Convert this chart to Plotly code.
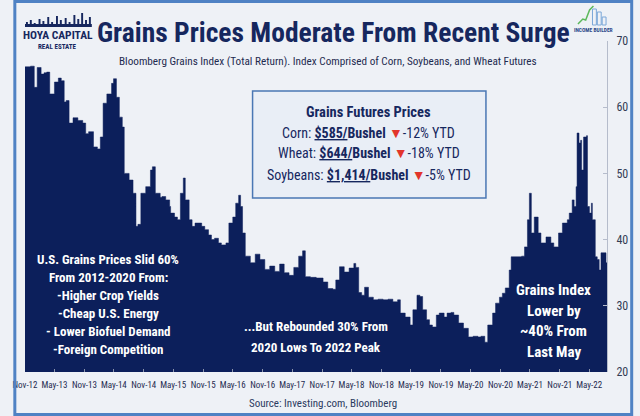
import plotly.graph_objects as go

# ---------------- data ----------------
dates = [
    "2012-11-01", "2012-11-05", "2012-12-05", "2012-12-28", "2013-01-15", "2013-02-08", "2013-02-26",
    "2013-03-14", "2013-04-02", "2013-05-01", "2013-05-25", "2013-06-12", "2013-06-30",
    "2013-07-12", "2013-07-30", "2013-08-23", "2013-09-22", "2013-10-22", "2013-11-09",
    "2013-11-27", "2013-12-27", "2014-01-20", "2014-02-07", "2014-02-24", "2014-03-19",
    "2014-04-17", "2014-04-29", "2014-05-17", "2014-06-04", "2014-06-22", "2014-07-04",
    "2014-08-03", "2014-08-27", "2014-09-14", "2014-09-26", "2014-10-14", "2014-11-13",
    "2014-12-12", "2014-12-24", "2015-01-11", "2015-02-10", "2015-02-21", "2015-03-16",
    "2015-04-09", "2015-04-15", "2015-05-09", "2015-05-27", "2015-06-14", "2015-07-02",
    "2015-07-14", "2015-08-07", "2015-08-25", "2015-09-12", "2015-10-06", "2015-10-23",
    "2015-11-11", "2015-12-04", "2015-12-22", "2016-01-10", "2016-02-03", "2016-02-21",
    "2016-03-20", "2016-04-07", "2016-05-01", "2016-05-19", "2016-06-06", "2016-06-18",
    "2016-06-30", "2016-07-17", "2016-08-17", "2016-09-16", "2016-10-15", "2016-11-14",
    "2016-12-14", "2017-01-14", "2017-02-13", "2017-03-13", "2017-04-12", "2017-05-11",
    "2017-06-10", "2017-07-04", "2017-07-21", "2017-08-21", "2017-09-26", "2017-11-07",
    "2017-12-06", "2018-01-06", "2018-01-24", "2018-02-16", "2018-03-17", "2018-04-16",
    "2018-05-15", "2018-05-27", "2018-06-14", "2018-07-02", "2018-07-20", "2018-08-13",
    "2018-09-12", "2018-10-11", "2018-11-11", "2018-12-11", "2019-01-10", "2019-02-08",
    "2019-02-25", "2019-03-27", "2019-04-26", "2019-05-13", "2019-06-07", "2019-06-25",
    "2019-07-12", "2019-08-05", "2019-08-23", "2019-09-10", "2019-10-04", "2019-10-22",
    "2019-11-21", "2019-12-09", "2020-01-02", "2020-01-20", "2020-02-18", "2020-03-19",
    "2020-04-18", "2020-05-17", "2020-06-16", "2020-07-04", "2020-07-28", "2020-08-15",
    "2020-09-14", "2020-10-02", "2020-10-26", "2020-11-13", "2020-12-01", "2020-12-25",
    "2021-01-06", "2021-02-11", "2021-03-11", "2021-03-29", "2021-04-16", "2021-04-28",
    "2021-05-10", "2021-05-28", "2021-06-21", "2021-07-08", "2021-08-08", "2021-09-07",
    "2021-09-25", "2021-10-24", "2021-11-17", "2021-12-17", "2021-12-29", "2022-01-16",
    "2022-01-28", "2022-02-09", "2022-02-15", "2022-02-27", "2022-03-09", "2022-03-15",
    "2022-03-27", "2022-04-14", "2022-04-20", "2022-05-02", "2022-05-14", "2022-05-20",
    "2022-06-07", "2022-06-19", "2022-07-01", "2022-07-12", "2022-07-30", "2022-08-12",
    "2022-08-18",
]
index_values = [
    66.1, 66.1, 66.2, 63.0, 66.0, 65.0, 65.2,
    65.3, 62.0, 63.8, 64.4, 64.0, 60.8,
    61.0, 57.6, 58.4, 58.0, 57.6, 56.0,
    56.3, 54.0, 53.7, 55.5, 60.6, 62.0,
    63.6, 64.3, 61.5, 58.5, 57.0, 50.0,
    49.0, 47.0, 42.0, 42.3, 47.0, 48.0,
    50.5, 51.0, 47.0, 46.4, 46.5, 46.0,
    45.0, 44.0, 43.4, 43.0, 47.0, 49.3,
    46.0, 43.0, 42.0, 42.5, 42.5, 42.0,
    41.5, 40.7, 40.0, 40.2, 39.5, 39.2,
    39.5, 42.5, 43.4, 45.5, 46.7, 45.0,
    41.0, 37.5, 36.5, 37.8, 37.0, 35.5,
    36.0, 35.2, 36.3, 35.0, 34.6, 35.8,
    37.5, 38.3, 34.4, 34.3, 34.2, 33.6,
    32.6, 32.5, 33.9, 35.9, 35.1, 35.7,
    36.4, 35.8, 32.0, 31.6, 32.8, 31.3,
    30.9, 31.0, 30.9, 31.0, 30.6, 30.9,
    28.9, 28.3, 27.1, 29.4, 31.6, 31.4,
    29.4, 27.9, 27.1, 26.8, 28.6, 28.9,
    28.3, 28.9, 29.0, 28.6, 27.4, 26.6,
    25.3, 25.4, 25.3, 25.4, 24.5, 27.1,
    28.9, 30.4, 31.3, 31.9, 32.7, 35.4,
    37.4, 37.4, 37.5, 38.9, 43.0, 47.0,
    41.0, 43.4, 41.0, 39.5, 40.4, 39.5,
    38.9, 41.0, 42.5, 43.0, 44.0, 46.0,
    45.0, 48.0, 56.1, 54.6, 55.0, 50.5,
    55.5, 55.7, 45.0, 44.0, 45.5, 43.0,
    37.4, 37.0, 35.4, 38.0, 38.0, 36.5,
    36.5,
]

tick_dates = ["2012-11-01", "2013-05-01", "2013-11-01", "2014-05-01", "2014-11-01",
              "2015-05-01", "2015-11-01", "2016-05-01", "2016-11-01", "2017-05-01",
              "2017-11-01", "2018-05-01", "2018-11-01", "2019-05-01", "2019-11-01",
              "2020-05-01", "2020-11-01", "2021-05-01", "2021-11-01", "2022-05-01"]
tick_labels = ["Nov-12", "May-13", "Nov-13", "May-14", "Nov-14", "May-15", "Nov-15",
               "May-16", "Nov-16", "May-17", "Nov-17", "May-18", "Nov-18", "May-19",
               "Nov-19", "May-20", "Nov-20", "May-21", "Nov-21", "May-22"]
y_ticks = [20, 30, 40, 50, 60, 70]

# ---------------- styling ----------------
W, H = 640, 416
ML, MR, MT, MB = 12, 27, 41, 44
PW, PH = W - ML - MR, H - MT - MB
NAVY = "#0c1f5b"
TEXT_NAVY = "#16275e"
BG = "#eef1f6"
NARROW = "Liberation Sans Narrow, Roboto Condensed, Lato, sans-serif"


def px(xp):
    return (xp - ML) / PW


def py(yp):
    return (H - MB - yp) / PH


fig = go.Figure()
fig.add_trace(go.Scatter(
    x=dates, y=index_values, mode="lines", line=dict(color=NAVY, width=0.5, shape="hv"),
    fill="tozeroy", fillcolor=NAVY, hoverinfo="skip", showlegend=False,
))

annotations = []


def note(text, xp, yp, size, color=TEXT_NAVY, bold=False, family=NARROW, xanchor="center"):
    t = f"<b>{text}</b>" if bold else text
    annotations.append(dict(
        text=t, x=px(xp), y=py(yp), xref="paper", yref="paper", showarrow=False,
        xanchor=xanchor, yanchor="middle", font=dict(size=size, color=color, family=family),
    ))


# Title and subtitle
note("Grains Prices Moderate From Recent Surge", 331, 33, 27.5, color=TEXT_NAVY, bold=True)
note("Bloomberg Grains Index (Total Return). Index Comprised of Corn, Soybeans, and Wheat Futures",
     325, 61, 11.2, color="#1e2b50")
# Logos (text)
note("HOYA CAPITAL", 46, 35, 11.5, color=TEXT_NAVY, bold=True)
note("REAL ESTATE", 46, 47, 7, color=TEXT_NAVY, bold=True)
note("INCOME BUILDER", 599, 30, 5.5, color="#2c4a8a", bold=True)

# Box contents
note("Grains Futures Prices", 367, 113, 14.5, color=TEXT_NAVY, bold=True)
TRI = "<span style='color:#e2352b'>▼</span>"
note(f"Corn: <b><u>$585/</u>Bushel</b> {TRI}-12% YTD", 367, 133, 14, color=TEXT_NAVY)
note(f"Wheat: <b><u>$644/</u>Bushel</b> {TRI}-18% YTD", 367, 153, 14, color=TEXT_NAVY)
note(f"Soybeans: <b><u>$1,414/</u>Bushel</b> {TRI}-5% YTD", 367, 175, 14, color=TEXT_NAVY)

# White annotations on the area
left_lines = ["U.S. Grains Prices Slid 60%", "From 2012-2020 From:", "-Higher Crop Yields",
              "-Cheap U.S. Energy", "- Lower Biofuel Demand", "-Foreign Competition"]
for i, s in enumerate(left_lines):
    note(s, 98, 259 + i * 18, 13, color="white", bold=True)
mid_lines = ["...But Rebounded 30% From", "2020 Lows To 2022 Peak"]
for i, s in enumerate(mid_lines):
    note(s, 312, 326 + i * 21, 13, color="white", bold=True)
right_lines = ["Grains Index", "Lower by", "~40% From", "Last May"]
for i, s in enumerate(right_lines):
    note(s, 558, 290 + i * 20.7, 15, color="white", bold=True)

note("Source: Investing.com, Bloomberg", 320, 403, 11, color="#2b3a60")

shapes = [
    # info box
    dict(type="rect", xref="paper", yref="paper", x0=px(247), x1=px(488), y0=py(198), y1=py(91),
         line=dict(color="#4a77b4", width=1.5), fillcolor="#e9eef6", layer="above"),
    # outer frame
    dict(type="rect", xref="paper", yref="paper", x0=px(1.5), x1=px(638.5), y0=py(414.5), y1=py(1.5),
         line=dict(color="#4f82c4", width=3), fillcolor="rgba(0,0,0,0)", layer="above"),
]

# simple skyline decoration of the Hoya Capital logo
skyline = [(13, 22), (17, 20), (21, 23), (26, 19), (30, 21), (35, 17), (39, 22), (44, 16),
           (48, 20), (53, 18), (57, 22), (62, 15), (66, 19), (70, 13), (74, 20), (78, 17)]
for sx, top in skyline:
    shapes.append(dict(type="rect", xref="paper", yref="paper", x0=px(sx), x1=px(sx + 2),
                       y0=py(26), y1=py(top), line=dict(width=0), fillcolor=TEXT_NAVY))
shapes.append(dict(type="rect", xref="paper", yref="paper", x0=px(12), x1=px(81),
                   y0=py(27), y1=py(24), line=dict(width=0), fillcolor=TEXT_NAVY))
# income builder logo sketch
shapes.append(dict(type="path", xref="paper", yref="paper",
                   path=f"M {px(583)},{py(24)} L {px(588)},{py(19)} L {px(591)},{py(20)} "
                        f"L {px(595)},{py(10)} L {px(599)},{py(6)}",
                   line=dict(color="#5cb85c", width=1.5)))
for bx, bt in [(598, 9), (603, 12), (608, 17)]:
    shapes.append(dict(type="rect", xref="paper", yref="paper", x0=px(bx), x1=px(bx + 4),
                       y0=py(25), y1=py(bt), line=dict(color="#7aa7d8", width=1),
                       fillcolor="rgba(0,0,0,0)"))

fig.update_layout(
    width=W, height=H,
    margin=dict(l=ML, r=MR, t=MT, b=MB, pad=0),
    paper_bgcolor=BG, plot_bgcolor=BG,
    showlegend=False,
    annotations=annotations,
    shapes=shapes,
    xaxis=dict(
        type="date", range=["2012-11-01", "2022-08-18"],
        tickmode="array", tickvals=tick_dates, ticktext=tick_labels, tickangle=0,
        ticks="inside", ticklen=3, tickcolor="#8a93ab", showgrid=False, zeroline=False,
        showline=False, tickfont=dict(size=9, color="#1e2b50", family=NARROW),
        ticklabelstandoff=6, ticklabeloverflow="allow",
    ),
    yaxis=dict(
        side="right", range=[20, 70], tickmode="array", tickvals=y_ticks,
        showgrid=False, zeroline=False, showline=True, linecolor="#b5bccb", linewidth=1,
        ticks="inside", ticklen=4, tickcolor="#b5bccb",
        tickfont=dict(size=12, color="#333d55", family=NARROW), ticklabelstandoff=6,
        ticklabeloverflow="allow",
    ),
)

fig.write_html("out.html", config={"displayModeBar": False},
               post_script="document.body.style.margin='0';document.body.style.overflow='hidden';")
